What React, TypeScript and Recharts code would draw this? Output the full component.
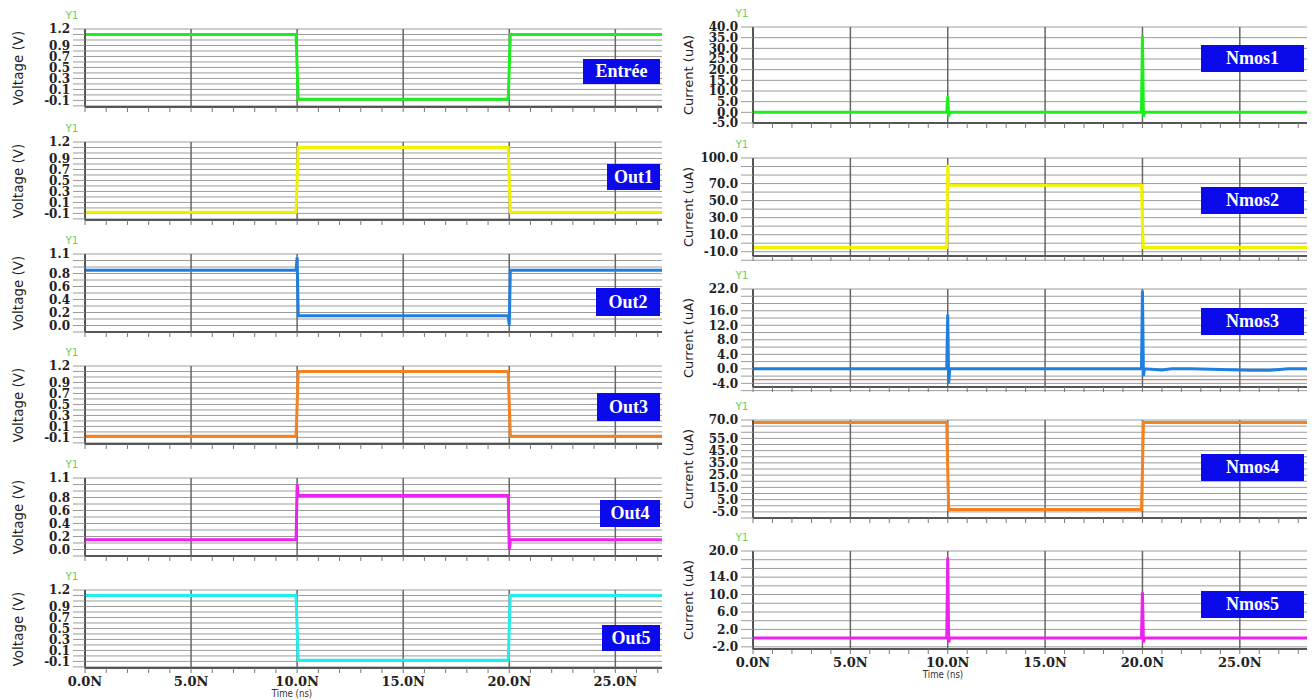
import React from "react"
import { LineChart, Line, XAxis, YAxis, CartesianGrid, ReferenceLine } from "recharts"

// time points (ns) shared by every trace
const timeNs = [0, 9.95, 10.0, 10.05, 10.1, 19.95, 20.0, 20.05, 20.1, 21.0, 21.5, 22.5, 25.5, 26.5, 27.5, 28.5]

// voltages (V)
const entree = [1.1, 1.1, 0.5, -0.08, -0.08, -0.08, 0.5, 1.1, 1.1, 1.1, 1.1, 1.1, 1.1, 1.1, 1.1, 1.1]
const out1 = [-0.08, -0.08, 0.5, 1.1, 1.1, 1.1, 0.5, -0.08, -0.08, -0.08, -0.08, -0.08, -0.08, -0.08, -0.08, -0.08]
const out2 = [0.85, 0.85, 1.05, 0.15, 0.15, 0.15, 0.0, 0.85, 0.85, 0.85, 0.85, 0.85, 0.85, 0.85, 0.85, 0.85]
const out3 = [-0.08, -0.08, 0.5, 1.1, 1.1, 1.1, 0.5, -0.08, -0.08, -0.08, -0.08, -0.08, -0.08, -0.08, -0.08, -0.08]
const out4 = [0.15, 0.15, 1.0, 0.83, 0.83, 0.83, 0.0, 0.15, 0.15, 0.15, 0.15, 0.15, 0.15, 0.15, 0.15, 0.15]
const out5 = [1.1, 1.1, 0.5, -0.08, -0.08, -0.08, 0.5, 1.1, 1.1, 1.1, 1.1, 1.1, 1.1, 1.1, 1.1, 1.1]

// currents (uA)
const nmos1 = [0, 0, 7.5, -2, 0, 0, 36, -2, 0, 0, 0, 0, 0, 0, 0, 0]
const nmos2 = [-5, -5, 92, 68, 68, 68, 20, -5, -5, -5, -5, -5, -5, -5, -5, -5]
const nmos3 = [0, 0, 15, -4, 0, 0, 21.5, -2, 0, -0.3, 0, 0, -0.4, -0.4, 0, 0]
const nmos4 = [68, 68, 30, -3, -3, -3, 30, 68, 68, 68, 68, 68, 68, 68, 68, 68]
const nmos5 = [0, 0, 18.5, -1, 0, 0, 10.5, -1, 0, 0, 0, 0, 0, 0, 0, 0]

// tick labels
const volt12Labels = [1.2, 0.9, 0.7, 0.5, 0.3, 0.1, -0.1]
const volt11Labels = [1.1, 0.8, 0.6, 0.4, 0.2, 0.0]
const nmos1Labels = [40, 35, 30, 25, 20, 15, 10, 5, 0, -5]
const nmos2Labels = [100, 70, 50, 30, 10, -10]
const nmos3Labels = [22, 16, 12, 8, 4, 0, -4]
const nmos4Labels = [70, 55, 45, 35, 25, 15, 5, -5]
const nmos5Labels = [20, 14, 10, 6, 2, -2]
const xLabelsNs = [0, 5, 10, 15, 20, 25]
const minorTicksNs = [0, 1, 2, 3, 4, 5, 6, 7, 8, 9, 10, 11, 12, 13, 14, 15, 16, 17, 18, 19, 20, 21, 22, 23, 24, 25, 26, 27, 28]
const majorTicksNs = [5, 10, 15, 20, 25]

const gridValues = (from: number, to: number, step: number) => {
  const out: number[] = []
  const n = Math.round((from - to) / step)
  for (let i = 0; i <= n; i++) out.push(Math.round((from - i * step) * 100) / 100)
  return out
}

const COLS = {
  left: { plotLeft: 85, plotRight: 662, xMax: 27.2, yAxisW: 85, titleX: 18, y1X: 72, yTitle: "Voltage (V)", titleSize: 13.5 },
  right: { plotLeft: 753, plotRight: 1307, xMax: 28.45, yAxisW: 90, titleX: 688, y1X: 742, yTitle: "Current (uA)", titleSize: 13 },
}

type Box = { left: number; top: number; width: number; height: number }

interface PanelProps {
  values: number[]
  color: string
  tag: string
  side: "left" | "right"
  labels: number[]
  domain: [number, number]
  step: number
  plotTop: number
  plotHeight: number
  box: Box
  bottom?: boolean
  redLine?: number
}

function Panel({ values, color, tag, side, labels, domain, step, plotTop, plotHeight, box, bottom, redLine }: PanelProps) {
  const col = COLS[side]
  const rows = timeNs.map((t, i) => ({ t, v: values[i] }))
  const grid = gridValues(domain[1], domain[0], step)
  const mt = 10
  const mr = 2
  const xH = bottom ? 30 : 7
  const plotW = col.plotRight - col.plotLeft
  const xTicks = minorTicksNs.filter((t) => t <= col.xMax)
  const isLabel = (v: number) => labels.some((l) => Math.abs(l - v) < 1e-6)

  return (
    <>
      <div style={{ position: "absolute", left: col.plotLeft - col.yAxisW, top: plotTop - mt }}>
        <LineChart width={col.yAxisW + plotW + mr} height={mt + plotHeight + xH} data={rows} margin={{ top: mt, right: mr, left: 0, bottom: 0 }}>
          <CartesianGrid vertical={false} stroke="#9c9c9c" strokeWidth={1} />
          <XAxis
            dataKey="t"
            type="number"
            domain={[0, col.xMax]}
            allowDataOverflow
            ticks={xTicks}
            interval={0}
            height={xH}
            tickSize={5}
            tickMargin={4}
            tickFormatter={(t: number) => (bottom && xLabelsNs.includes(t) ? `${t.toFixed(1)}N` : "")}
            tick={{ fontFamily: "DejaVu Serif", fontWeight: "bold", fontSize: 13, fill: "#222" }}
            axisLine={{ stroke: "#555", strokeWidth: 2 }}
            tickLine={{ stroke: "#777" }}
          />
          <YAxis
            type="number"
            domain={domain}
            allowDataOverflow
            ticks={grid}
            interval={0}
            width={col.yAxisW}
            tickSize={12}
            tickMargin={3}
            tickFormatter={(v: number) => (isLabel(v) ? v.toFixed(1) : "")}
            tick={{ fontFamily: "DejaVu Serif", fontWeight: "bold", fontSize: 12, fill: "#222" }}
            axisLine={{ stroke: "#555", strokeWidth: 2 }}
            tickLine={{ stroke: "#9c9c9c" }}
          />
          {majorTicksNs.map((t) => (
            <ReferenceLine key={t} x={t} stroke="#666" strokeWidth={1.5} zIndex={-50} />
          ))}
          {redLine !== undefined && <ReferenceLine y={redLine} stroke="#b46060" strokeWidth={1} zIndex={-50} />}
          <Line type="linear" dataKey="v" stroke={color} strokeWidth={3} dot={false} isAnimationActive={false} />
        </LineChart>
      </div>
      <div
        style={{
          position: "absolute",
          left: col.titleX,
          top: plotTop + plotHeight / 2,
          transform: "translate(-50%, -50%) rotate(-90deg)",
          fontFamily: "DejaVu Sans",
          fontSize: col.titleSize,
          color: "#222",
          whiteSpace: "nowrap",
        }}
      >
        {col.yTitle}
      </div>
      <div
        style={{
          position: "absolute",
          left: col.y1X - 8,
          top: plotTop - 20,
          width: 16,
          textAlign: "center",
          fontFamily: "DejaVu Sans",
          fontSize: 10.5,
          color: "#5fd35f",
        }}
      >
        Y1
      </div>
      <div
        style={{
          position: "absolute",
          left: box.left,
          top: box.top,
          width: box.width,
          height: box.height,
          background: "#0a0aeb",
          color: "#fff",
          fontFamily: "Liberation Serif",
          fontWeight: "bold",
          fontSize: 18,
          display: "flex",
          alignItems: "center",
          justifyContent: "center",
        }}
      >
        {tag}
      </div>
      {bottom && (
        <div
          style={{
            position: "absolute",
            left: col.plotLeft + (10 / col.xMax) * plotW - 30,
            top: plotTop + plotHeight + 19,
            width: 50,
            textAlign: "center",
            fontFamily: "DejaVu Sans",
            fontSize: 10.5,
            color: "#333",
            transform: "scaleX(0.82)",
            whiteSpace: "nowrap",
          }}
        >
          Time (ns)
        </div>
      )}
    </>
  )
}

export default function App() {
  return (
    <div style={{ position: "absolute", left: 0, top: 0, width: 1314, height: 700, background: "#fff", overflow: "hidden" }}>
      <Panel values={entree} color="#1cf01c" tag="Entrée" side="left" labels={volt12Labels} domain={[-0.22, 1.2]} step={0.1} plotTop={29} plotHeight={78} box={{ left: 583, top: 59, width: 77, height: 25 }} />
      <Panel values={out1} color="#f2f200" tag="Out1" side="left" labels={volt12Labels} domain={[-0.22, 1.2]} step={0.1} plotTop={142} plotHeight={78} box={{ left: 607, top: 164, width: 53, height: 26 }} />
      <Panel values={out2} color="#1f7fe0" tag="Out2" side="left" labels={volt11Labels} domain={[-0.1, 1.1]} step={0.1} plotTop={254} plotHeight={78} box={{ left: 596, top: 288, width: 64, height: 28 }} />
      <Panel values={out3} color="#f58220" tag="Out3" side="left" labels={volt12Labels} domain={[-0.22, 1.2]} step={0.1} plotTop={366} plotHeight={78} box={{ left: 597, top: 393, width: 63, height: 28 }} />
      <Panel values={out4} color="#ee22ee" tag="Out4" side="left" labels={volt11Labels} domain={[-0.1, 1.1]} step={0.1} plotTop={478} plotHeight={78} box={{ left: 600, top: 500, width: 60, height: 27 }} />
      <Panel values={out5} color="#22eeee" tag="Out5" side="left" labels={volt12Labels} domain={[-0.22, 1.2]} step={0.1} plotTop={590} plotHeight={78} box={{ left: 602, top: 625, width: 58, height: 26 }} bottom />

      <Panel values={nmos1} color="#1cf01c" tag="Nmos1" side="right" labels={nmos1Labels} domain={[-5, 40]} step={5} plotTop={27} plotHeight={96} box={{ left: 1201, top: 45, width: 103, height: 27 }} />
      <Panel values={nmos2} color="#f2f200" tag="Nmos2" side="right" labels={nmos2Labels} domain={[-15, 100]} step={10} plotTop={158} plotHeight={98} box={{ left: 1201, top: 187, width: 103, height: 27 }} />
      <Panel values={nmos3} color="#1f7fe0" tag="Nmos3" side="right" labels={nmos3Labels} domain={[-5, 22]} step={2} plotTop={289} plotHeight={98} box={{ left: 1201, top: 308, width: 103, height: 27 }} redLine={-3} />
      <Panel values={nmos4} color="#f58220" tag="Nmos4" side="right" labels={nmos4Labels} domain={[-10, 70]} step={5} plotTop={420} plotHeight={98} box={{ left: 1201, top: 454, width: 103, height: 27 }} />
      <Panel values={nmos5} color="#ee22ee" tag="Nmos5" side="right" labels={nmos5Labels} domain={[-2.5, 20]} step={2} plotTop={551} plotHeight={98} box={{ left: 1201, top: 591, width: 103, height: 27 }} bottom />
    </div>
  )
}
